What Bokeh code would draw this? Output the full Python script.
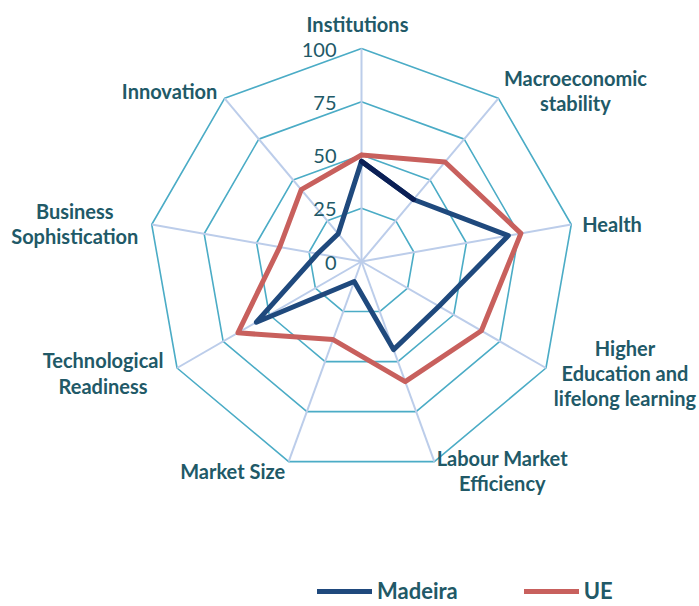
import numpy as np
from bokeh.plotting import figure
from bokeh.models import Range1d, ColumnDataSource, Legend, LegendItem
from bokeh.core.properties import value
from bokeh.embed import file_html
from bokeh.resources import INLINE

# ---------------- data ----------------
categories = ["Institutions", "Macroeconomic stability", "Health",
              "Higher Education and lifelong learning", "Labour Market Efficiency",
              "Market Size", "Technological Readiness", "Business Sophistication",
              "Innovation"]
display_labels = ["Institutions", "Macroeconomic\nstability", "Health",
                  "Higher\nEducation and\nlifelong learning", "Labour Market\nEfficiency",
                  "Market Size", "Technological\nReadiness", "Business\nSophistication",
                  "Innovation"]
madeira = [47, 38, 70, 42, 44, 10, 57, 21, 17]
ue = [50, 61, 76, 65, 60, 39, 67, 39, 44]
ticks = [0, 25, 50, 75, 100]
tick_labels = ["0", "25", "50", "75", "100"]

# ---------------- styling / layout ----------------
TEXT = "#215967"
GRID = "#4BACC6"
SPOKE = "#BCCDEA"
C_MAD = "#1F497D"
C_MAD_DARK = "#0B1F55"
C_UE = "#C8605D"

W, H = 699, 606
CX, CY = 361, 261        # centre of the radar in frame pixels
S = 2.13                 # pixels per unit

n = len(categories)
ang = np.arange(n) * 2 * np.pi / n


def polar(vals):
    v = np.asarray(vals, dtype=float)
    return v * np.sin(ang), v * np.cos(ang)


def closed(a):
    return np.append(a, a[0])


p = figure(width=W, height=H, output_backend="svg", toolbar_location=None,
           x_range=Range1d(-CX / S, (W - CX) / S),
           y_range=Range1d(-(H - CY) / S, CY / S),
           x_axis_type=None, y_axis_type=None, min_border=0,
           outline_line_color=None, background_fill_color="white")
p.grid.visible = False

# rings
ring_xs, ring_ys = [], []
for lv in ticks[1:]:
    rx, ry = polar([lv] * n)
    ring_xs.append(list(closed(rx)))
    ring_ys.append(list(closed(ry)))
p.multi_line(ring_xs, ring_ys, line_color=GRID, line_width=1.6)

# spokes
ox, oy = polar([ticks[-1]] * n)
p.segment(x0=np.zeros(n), y0=np.zeros(n), x1=ox, y1=oy,
          line_color=SPOKE, line_width=2)

# series
mx, my = polar(madeira)
ux, uy = polar(ue)
r_mad = p.line(closed(mx), closed(my), line_color=C_MAD, line_width=5,
               line_join="round", line_cap="round")
p.line(mx[:2], my[:2], line_color=C_MAD_DARK, line_width=5,
       line_join="round", line_cap="round")
r_ue = p.line(closed(ux), closed(uy), line_color=C_UE, line_width=5,
              line_join="round", line_cap="round")

# tick labels on the vertical axis
p.text(x=np.zeros(len(ticks)), y=np.array(ticks, dtype=float), text=tick_labels,
       text_align="right", text_baseline="middle", x_offset=-25, y_offset=1,
       text_font=value("Lato"), text_font_size="20px", text_color=TEXT)

# category labels placed at the outer vertices with pixel offsets
lab_dx = [-4, 77, 11, 79, 68, -56, -74, -77, -55]
lab_dy = [-25, -8, -1, 5, 9, 9, 5, -1, -7]
lab_align = ["center", "center", "left", "center", "center",
             "center", "center", "center", "center"]
src = ColumnDataSource(dict(x=ox, y=oy, text=display_labels, dx=lab_dx, dy=lab_dy,
                            align=lab_align))
p.text(x="x", y="y", text="text", x_offset="dx", y_offset="dy", text_align="align",
       text_baseline="middle", source=src, text_font=value("Lato"),
       text_font_style="bold", text_font_size="20px", text_color=TEXT,
       text_line_height=1.05)

legend = Legend(items=[LegendItem(label="Madeira", renderers=[r_mad]),
                       LegendItem(label="UE", renderers=[r_ue])],
                orientation="horizontal", location=(317, 2),
                glyph_width=55, glyph_height=24, label_standoff=5, spacing=66,
                padding=0, margin=0, border_line_alpha=0, background_fill_alpha=0,
                label_text_font="Lato", label_text_font_style="bold",
                label_text_font_size="22px", label_text_color=TEXT,
                label_height=24)
p.add_layout(legend)

open("out.html", "w").write(file_html(p, INLINE))
